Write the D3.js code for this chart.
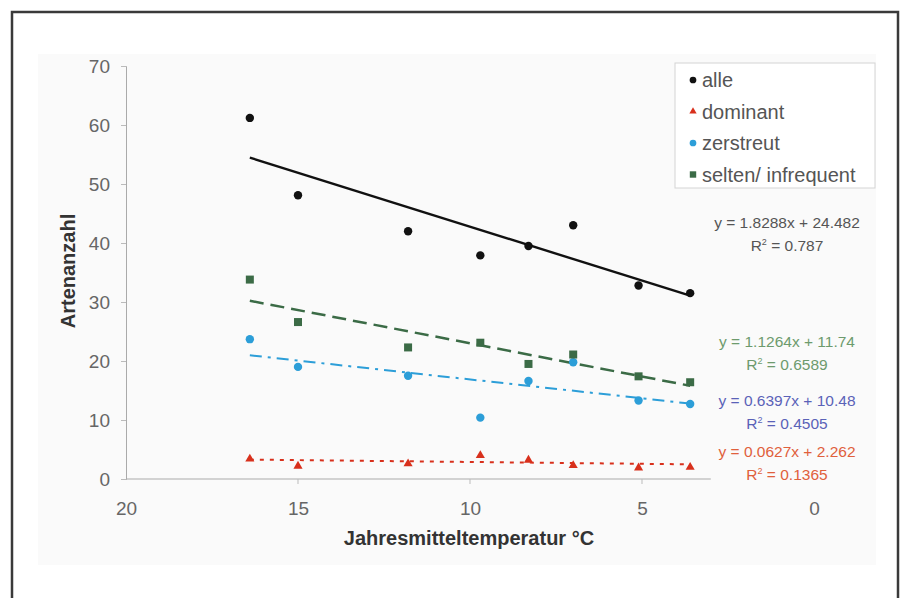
<!DOCTYPE html>
<html>
<head>
<meta charset="utf-8">
<script src="https://cdn.jsdelivr.net/npm/d3@7"></script>
<style>
  body { margin: 0; background: #fff; }
  text { font-family: "Liberation Sans", Arial, sans-serif; }
</style>
</head>
<body>
<div id="chart"></div>
<script>
// temperatures (°C) of the sites
const temps = [16.4, 15.0, 11.8, 9.7, 8.3, 7.0, 5.1, 3.6];

const alle      = [61.2, 48.1, 42.0, 37.9, 39.5, 43.0, 32.8, 31.5];
const dominant  = [3.4, 2.2, 2.6, 4.0, 3.2, 2.3, 1.9, 2.0];
const zerstreut = [23.7, 19.0, 17.5, 10.4, 16.6, 19.8, 13.3, 12.7];
const selten    = [33.8, 26.6, 22.3, 23.1, 19.5, 21.1, 17.4, 16.4];

const seriesNames = ['alle', 'dominant', 'zerstreut', 'selten/ infrequent'];
const slopes = [1.8288, 0.0627, 0.6397, 1.1264];
const intercepts = [24.482, 2.262, 10.48, 11.74];
const eqLabels = ['y = 1.8288x + 24.482', 'y = 0.0627x + 2.262', 'y = 0.6397x + 10.48', 'y = 1.1264x + 11.74'];
const r2Labels = ['0.787', '0.1365', '0.4505', '0.6589'];

const xTicks = [20, 15, 10, 5, 0];
const yTicks = [0, 10, 20, 30, 40, 50, 60, 70];

const W = 901, H = 598;
const svg = d3.select('#chart').append('svg')
    .attr('width', W).attr('height', H);

// outer frame
svg.append('rect')
    .attr('x', 12).attr('y', 12)
    .attr('width', 886).attr('height', 620)
    .attr('fill', '#fff')
    .attr('stroke', '#3a3a3a')
    .attr('stroke-width', 2.5);

// chart panel
svg.append('rect')
    .attr('x', 38).attr('y', 54)
    .attr('width', 838).attr('height', 511)
    .attr('fill', '#fafafa');

const x = d3.scaleLinear().domain([20, 0]).range([126, 814]);
const y = d3.scaleLinear().domain([0, 70]).range([479, 66]);

const colors = ['#111', '#d8301c', '#2c9ed8', '#3b6b46'];
const eqColors = ['#555', '#e0603c', '#5a62b8', '#6d9a6d'];
const dashes = [null, '4,6', '12,6,3,6', '14,7'];
const widths = [2.4, 2, 2, 2.5];

// axes
const yAxis = svg.append('g')
    .attr('transform', `translate(${x(20)},0)`)
    .call(d3.axisLeft(y).tickValues(yTicks).tickSize(5).tickPadding(11));
yAxis.select('.domain').attr('stroke', '#aaa');
yAxis.selectAll('.tick line').attr('stroke', '#bbb');
yAxis.selectAll('.tick text')
    .attr('fill', '#666').style('font-size', '19px');

const xAxis = svg.append('g')
    .attr('transform', `translate(0,${y(0)})`)
    .call(d3.axisBottom(x).tickValues(xTicks).tickSize(0).tickPadding(23));
xAxis.select('.domain').remove();
xAxis.selectAll('.tick text')
    .attr('fill', '#666').style('font-size', '19px');

// x axis line ends just past the last site
svg.append('line')
    .attr('x1', x(20)).attr('x2', x(d3.min(temps) - 0.6))
    .attr('y1', y(0)).attr('y2', y(0))
    .attr('stroke', '#aaa');
svg.selectAll('.xtick')
    .data([15, 10, 5])
    .enter().append('line')
    .attr('class', 'xtick')
    .attr('x1', d => x(d)).attr('x2', d => x(d))
    .attr('y1', y(0)).attr('y2', y(0) + 5)
    .attr('stroke', '#bbb');

// axis titles
svg.append('text')
    .attr('transform', `translate(75,271) rotate(-90)`)
    .attr('text-anchor', 'middle')
    .attr('fill', '#333')
    .style('font-size', '20px').style('font-weight', 'bold')
    .text('Artenanzahl');
svg.append('text')
    .attr('x', 469).attr('y', 545)
    .attr('text-anchor', 'middle')
    .attr('fill', '#333')
    .style('font-size', '20px').style('font-weight', 'bold')
    .text('Jahresmitteltemperatur °C');

// trend lines
const xMin = d3.min(temps), xMax = d3.max(temps);
[0, 3, 2, 1].forEach(i => {
    const f = t => slopes[i] * t + intercepts[i];
    svg.append('line')
        .attr('x1', x(xMax)).attr('y1', y(f(xMax)))
        .attr('x2', x(xMin)).attr('y2', y(f(xMin)))
        .attr('stroke', colors[i])
        .attr('stroke-width', widths[i])
        .attr('stroke-dasharray', dashes[i]);
});

// markers
const allSeries = [alle, dominant, zerstreut, selten];
function marker(g, i, cx, cy, s) {
    s = s || 1;
    if (i === 1) {
        g.append('path')
            .attr('d', d3.symbol(d3.symbolTriangle, 36 * s * s)())
            .attr('transform', `translate(${cx},${cy})`)
            .attr('fill', colors[i]);
    } else if (i === 3) {
        g.append('rect')
            .attr('x', cx - 4 * s).attr('y', cy - 4 * s)
            .attr('width', 8 * s).attr('height', 8 * s)
            .attr('fill', colors[i]);
    } else {
        g.append('circle')
            .attr('cx', cx).attr('cy', cy).attr('r', 4.2 * s)
            .attr('fill', colors[i]);
    }
}
const pts = svg.append('g');
[2, 3, 1, 0].forEach(i => {
    allSeries[i].forEach((v, j) => marker(pts, i, x(temps[j]), y(v)));
});

// legend
const lg = svg.append('g');
lg.append('rect')
    .attr('x', 675).attr('y', 63)
    .attr('width', 200).attr('height', 125)
    .attr('fill', '#fff')
    .attr('stroke', '#d4d4d4');
seriesNames.forEach((name, i) => {
    const ly = 80 + i * 31.5;
    marker(lg, i, 693, ly, 0.8);
    lg.append('text')
        .attr('x', 702).attr('y', ly + 7)
        .attr('fill', '#555')
        .style('font-size', '20px')
        .text(name);
});

// equation labels
const eqY = [228, 457, 406, 347];
eqLabels.forEach((t, i) => {
    const g = svg.append('g').attr('fill', eqColors[i]).style('font-size', '15.5px');
    g.append('text')
        .attr('x', 787).attr('y', eqY[i])
        .attr('text-anchor', 'middle')
        .text(t);
    const r = g.append('text')
        .attr('x', 787).attr('y', eqY[i] + 23)
        .attr('text-anchor', 'middle');
    r.append('tspan').text('R');
    r.append('tspan').attr('dy', -6).style('font-size', '9px').text('2');
    r.append('tspan').attr('dy', 6).text(' = ' + r2Labels[i]);
});
</script>
</body>
</html>
